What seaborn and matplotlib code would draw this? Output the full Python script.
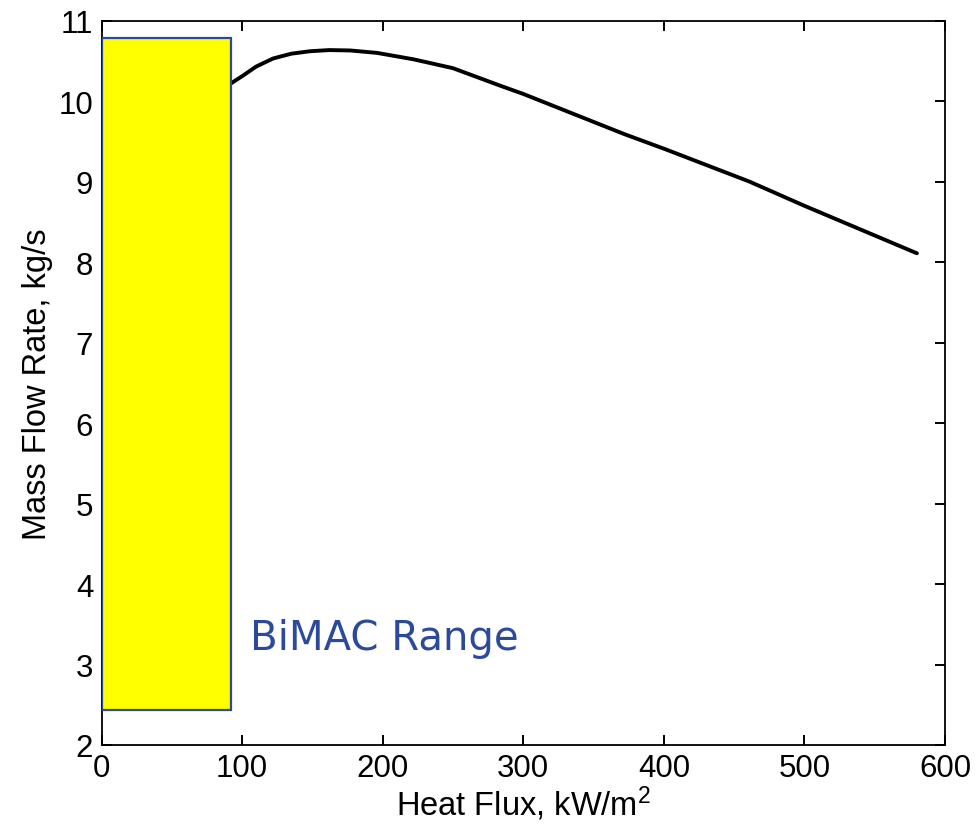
import matplotlib
matplotlib.use("Agg")
import matplotlib.pyplot as plt
import seaborn as sns
import pandas as pd

# Data
heat_flux = [92, 100, 110, 122, 135, 148, 162, 177, 196, 222, 250, 284, 300, 372, 400, 461, 500, 580]
mass_flow = [10.22, 10.31, 10.43, 10.53, 10.59, 10.62, 10.635, 10.63, 10.60, 10.52, 10.41,
             10.19, 10.09, 9.59, 9.41, 9.00, 8.70, 8.11]
bimac_x = [0, 92]          # heat flux range of BiMAC box
bimac_y = [2.43, 10.78]    # mass flow range of BiMAC box
x_ticks = [0, 100, 200, 300, 400, 500, 600]
y_ticks = [2, 3, 4, 5, 6, 7, 8, 9, 10, 11]

sns.set_style("ticks")
plt.rcParams['font.family'] = ['Liberation Sans', 'DejaVu Sans']
plt.rcParams['mathtext.fontset'] = 'custom'
plt.rcParams['mathtext.rm'] = 'Liberation Sans'
plt.rcParams['mathtext.it'] = 'Liberation Sans'
plt.rcParams['text.color'] = 'black'
plt.rcParams['axes.labelcolor'] = 'black'

fig = plt.figure(figsize=(9.78, 8.28), dpi=100)
ax = fig.add_axes([101.5 / 978, 82 / 828, (945 - 101.5) / 978, (746 - 21.7) / 828])

# BiMAC range box
ax.bar(bimac_x[0], bimac_y[1] - bimac_y[0], bottom=bimac_y[0],
       width=bimac_x[1] - bimac_x[0], align='edge',
       color='#FFFF00', edgecolor='#2B4A9A', linewidth=1.6, zorder=3)

df = pd.DataFrame({"Heat Flux": heat_flux, "Mass Flow": mass_flow})
sns.lineplot(data=df, x="Heat Flux", y="Mass Flow", ax=ax, color='black',
             linewidth=2.8, zorder=2)

ax.text(105.5, 3.19, "BiMAC Range", color='#2B4A9A', fontsize=29,
        family=['DejaVu Sans'], va='baseline', ha='left')

ax.set_xlim(0, 600)
ax.set_ylim(2, 11)
ax.set_xticks(x_ticks)
ax.set_yticks(y_ticks)
ax.set_xticklabels([str(v) for v in x_ticks])
ax.set_yticklabels([str(v) for v in y_ticks])
ax.tick_params(direction='in', length=7, width=1.4, top=True, right=True,
               labelsize=22.5, pad=6, color='black', labelcolor='black')
for s in ax.spines.values():
    s.set_visible(True)
    s.set_linewidth(1.3)
    s.set_color('black')

ax.set_xlabel("Heat Flux, kW/m$^2$", fontsize=23.5, labelpad=0, color='black')
ax.set_ylabel("Mass Flow Rate, kg/s", fontsize=23.5, labelpad=4, color='black')

fig.savefig("out.png", dpi=100, facecolor='white')
